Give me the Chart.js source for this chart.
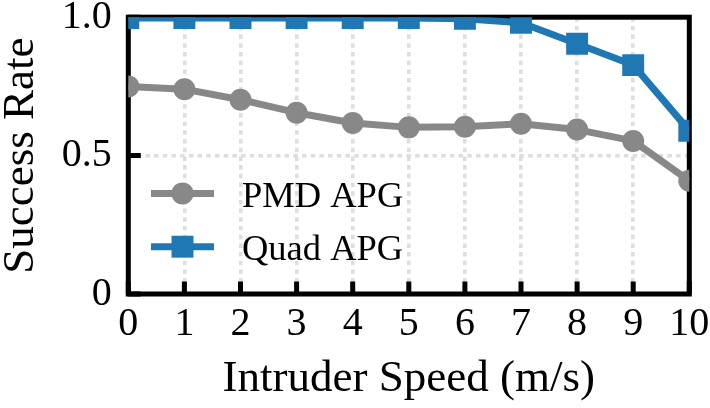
<!DOCTYPE html>
<html><head><meta charset="utf-8">
<script src="https://cdn.jsdelivr.net/npm/chart.js@4.4.1/dist/chart.umd.min.js"></script>
<style>html,body{margin:0;padding:0;background:#fff;} canvas{display:block;}</style>
</head><body>
<canvas id="c" width="710" height="408"></canvas>
<script>
const speeds = ['0','1','2','3','4','5','6','7','8','9','10'];
const pmdApg = [0.750, 0.740, 0.702, 0.655, 0.618, 0.602, 0.604, 0.615, 0.594, 0.553, 0.409];
const quadApg = [0.997, 0.997, 0.997, 0.997, 0.997, 0.997, 0.994, 0.980, 0.904, 0.827, 0.590];
const yTickLabels = ['0', '0.5', '1.0'];
const seriesNames = ['PMD APG', 'Quad APG'];
const xTitle = 'Intruder Speed (m/s)';
const yTitle = 'Success Rate';

const FONT = '"Liberation Serif", "Times New Roman", serif';
const GRAY = '#888888';
const BLUE = '#1f77b4';

const framePlugin = {
  id: 'frame',
  beforeDatasetsDraw(chart) {
    const {ctx, chartArea: a, scales: {x, y}} = chart;
    ctx.save();
    ctx.strokeStyle = '#000';
    ctx.lineWidth = 5;
    ctx.lineCap = 'butt';
    ctx.beginPath();
    x.ticks.forEach((t, i) => {
      const px = x.getPixelForTick(i);
      ctx.moveTo(px, a.bottom); ctx.lineTo(px, a.bottom - 12.5);
    });
    y.ticks.forEach(t => {
      const py = y.getPixelForValue(t.value);
      ctx.moveTo(a.left, py); ctx.lineTo(a.left + 12.5, py);
    });
    ctx.stroke();
    ctx.lineJoin = 'miter';
    ctx.strokeRect(a.left, a.top, a.right - a.left, a.bottom - a.top);
    ctx.restore();
  }
};

const legendPlugin = {
  id: 'customLegend',
  afterDatasetsDraw(chart) {
    const {ctx, chartArea: a} = chart;
    ctx.save();
    chart.data.datasets.forEach((ds, i) => {
      const cy = a.top + 176.2 + i * 53.3;
      const x0 = a.left + 22.7, x1 = a.left + 85.7, xm = (x0 + x1) / 2;
      ctx.strokeStyle = ds.borderColor;
      ctx.lineWidth = ds.borderWidth;
      ctx.lineCap = 'butt';
      ctx.beginPath(); ctx.moveTo(x0, cy); ctx.lineTo(x1, cy); ctx.stroke();
      ctx.fillStyle = ds.pointBackgroundColor;
      Chart.helpers.drawPoint(ctx, {pointStyle: ds.pointStyle, radius: ds.pointRadius, borderWidth: 0, rotation: 0}, xm, cy);
      ctx.fillStyle = '#000';
      ctx.font = '36.5px ' + FONT;
      ctx.textAlign = 'left';
      ctx.textBaseline = 'alphabetic';
      ctx.fillText(ds.label, a.left + 113.7, cy + 13.4);
    });
    ctx.restore();
  }
};

const gridOpts = {color: '#dddddd', lineWidth: 3.5, drawTicks: false};
const borderOpts = {display: false, dash: [4.5, 4.2]};

new Chart(document.getElementById('c'), {
  type: 'line',
  data: {
    labels: speeds,
    datasets: [
      {label: seriesNames[0], data: pmdApg, borderColor: GRAY, backgroundColor: GRAY,
       pointBackgroundColor: GRAY, borderWidth: 7, pointStyle: 'circle', pointRadius: 11,
       pointBorderWidth: 0, clip: 0, tension: 0, borderJoinStyle: 'round'},
      {label: seriesNames[1], data: quadApg, borderColor: BLUE, backgroundColor: BLUE,
       pointBackgroundColor: BLUE, borderWidth: 7, pointStyle: 'rect', pointRadius: 15.5,
       pointBorderWidth: 0, clip: 0, tension: 0, borderJoinStyle: 'round'}
    ]
  },
  options: {
    responsive: false,
    animation: false,
    events: [],
    layout: {padding: {left: 0, right: 20.7, top: 17.2, bottom: 0}},
    plugins: {legend: {display: false}, tooltip: {enabled: false}},
    scales: {
      x: {
        type: 'category', offset: false,
        grid: gridOpts, border: borderOpts,
        ticks: {font: {family: FONT, size: 40}, color: '#000', padding: 6, maxRotation: 0, autoSkip: false},
        title: {display: true, text: xTitle, color: '#000', font: {family: FONT, size: 45, lineHeight: 1}, padding: {top: 0, bottom: 6}},
        afterFit(s) { s.height = 114; s.paddingLeft = 0; s.paddingRight = 0; }
      },
      y: {
        type: 'linear', min: 0, max: 1,
        grid: gridOpts, border: borderOpts,
        ticks: {stepSize: 0.5, callback: (v, i) => yTickLabels[i], font: {family: FONT, size: 40}, color: '#000', padding: 16.6},
        title: {display: true, text: yTitle, color: '#000', font: {family: FONT, size: 45, lineHeight: 1}, padding: {top: -1.5, bottom: 0}},
        afterFit(s) { s.width = 128.3; s.paddingTop = 0; s.paddingBottom = 0; }
      }
    }
  },
  plugins: [framePlugin, legendPlugin]
});
</script>
</body></html>
